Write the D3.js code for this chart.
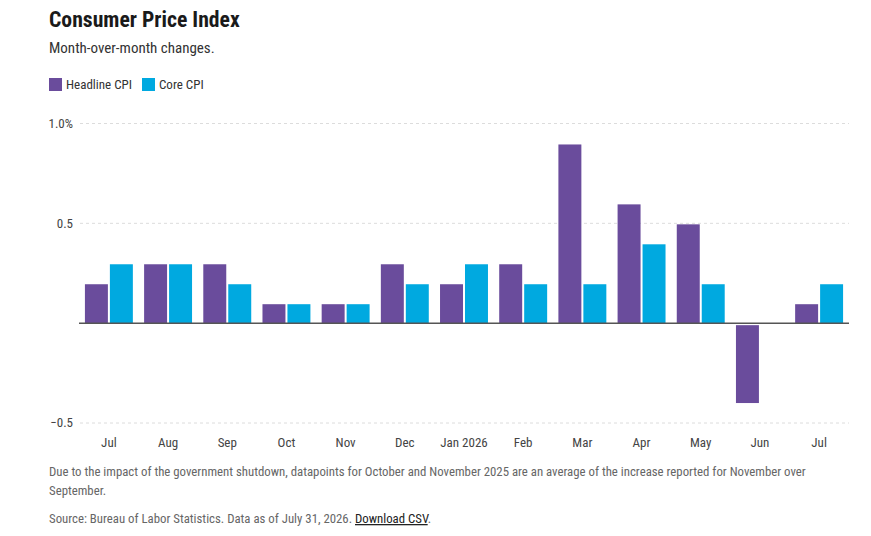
<!DOCTYPE html>
<html>
<head>
<meta charset="utf-8">
<script src="https://cdn.jsdelivr.net/npm/d3@7"></script>
<style>
    body { margin: 0; background: #fff; }
    svg text { font-family: "Roboto Condensed", "Liberation Sans Narrow", "DejaVu Sans Condensed", sans-serif; }
</style>
</head>
<body>
<svg id="chart" width="871" height="536"></svg>
<script>
// Chart data
let months = ["Jul", "Aug", "Sep", "Oct", "Nov", "Dec", "Jan 2026", "Feb", "Mar", "Apr", "May", "Jun", "Jul"];
let headline = [0.2, 0.3, 0.3, 0.1, 0.1, 0.3, 0.2, 0.3, 0.9, 0.6, 0.5, -0.4, 0.1];
let core = [0.3, 0.3, 0.2, 0.1, 0.1, 0.2, 0.3, 0.2, 0.2, 0.4, 0.2, null, 0.2];
let series = ["Headline CPI", "Core CPI"];
let yTicks = [-0.5, 0.5, 1.0];
let yTickLabels = ["\u22120.5", "0.5", "1.0%"];

let colors = { "Headline CPI": "#6a4c9c", "Core CPI": "#00a9e0" };

let svg = d3.select("#chart");

// Title and subtitle
svg.append("text")
    .attr("x", 49).attr("y", 27)
    .style("font-size", "21.7px").style("font-weight", "bold").style("fill", "#1a1a1a")
    .text("Consumer Price Index");

svg.append("text")
    .attr("x", 49).attr("y", 53)
    .style("font-size", "15px").style("fill", "#333")
    .text("Month-over-month changes.");

// Legend
let legend = svg.append("g").attr("transform", "translate(49,78)");
let lx = 0;
series.forEach(function(s) {
    let g = legend.append("g").attr("transform", "translate(" + lx + ",0)");
    g.append("rect").attr("width", 13).attr("height", 13).style("fill", colors[s]);
    let t = g.append("text").attr("x", 17).attr("y", 11)
        .style("font-size", "13px").style("fill", "#333").text(s);
    lx += 17 + t.node().getComputedTextLength() + 10;
});

// Scales
let x0 = d3.scaleBand()
    .domain(d3.range(months.length))
    .range([79, 849])
    .paddingInner(0.19)
    .paddingOuter(0.1);

let x1 = d3.scaleBand()
    .domain(series)
    .range([0, x0.bandwidth()])
    .paddingInner(0.08);

let y = d3.scaleLinear()
    .domain([-0.5, 1.0])
    .range([423, 123.5]);

// Gridlines
svg.selectAll(".grid").data(yTicks)
    .enter().append("line")
    .attr("class", "grid")
    .attr("x1", 80).attr("x2", 849)
    .attr("y1", function(d) { return y(d); })
    .attr("y2", function(d) { return y(d); })
    .style("stroke", "#dcdcdc")
    .style("stroke-dasharray", "3,3");

// Y labels
svg.selectAll(".ylabel").data(yTicks)
    .enter().append("text")
    .attr("class", "ylabel")
    .attr("x", 73)
    .attr("y", function(d) { return y(d) + 1; })
    .attr("text-anchor", "end")
    .attr("dominant-baseline", "middle")
    .style("font-size", "13px").style("fill", "#444")
    .text(function(d, i) { return yTickLabels[i]; });

// Bars
let rows = months.map(function(m, i) {
    return { i: i, values: [
        { key: "Headline CPI", v: headline[i] },
        { key: "Core CPI", v: core[i] }
    ]};
});

let groups = svg.selectAll(".month")
    .data(rows)
    .enter().append("g")
    .attr("class", "month")
    .attr("transform", function(d) { return "translate(" + x0(d.i) + ",0)"; });

groups.selectAll("rect")
    .data(function(d) { return d.values.filter(function(e) { return e.v !== null; }); })
    .enter().append("rect")
    .attr("x", function(d) { return x1(d.key); })
    .attr("width", x1.bandwidth())
    .attr("y", function(d) { return d.v >= 0 ? y(d.v) + 1 : y(0) + 2; })
    .attr("height", function(d) { return d.v >= 0 ? y(0) - y(d.v) - 1 : y(d.v) - y(0) - 2; })
    .style("fill", function(d) { return colors[d.key]; });

// Zero line
svg.append("line")
    .attr("x1", 79).attr("x2", 849)
    .attr("y1", y(0)).attr("y2", y(0))
    .style("stroke", "#555")
    .style("stroke-width", 1.5);

// X labels
svg.selectAll(".xlabel").data(months)
    .enter().append("text")
    .attr("class", "xlabel")
    .attr("x", function(d, i) { return x0(i) + x0.bandwidth() / 2; })
    .attr("y", 447)
    .attr("text-anchor", "middle")
    .style("font-size", "13px").style("fill", "#444")
    .text(function(d) { return d; });

// Footer
let note = [
    "Due to the impact of the government shutdown, datapoints for October and November 2025 are an average of the increase reported for November over",
    "September."
];
svg.selectAll(".note").data(note)
    .enter().append("text")
    .attr("class", "note")
    .attr("x", 49)
    .attr("y", function(d, i) { return 476 + i * 19; })
    .style("font-size", "12.8px").style("fill", "#666")
    .text(function(d) { return d; });

let src = svg.append("text")
    .attr("x", 49).attr("y", 523)
    .style("font-size", "12.8px").style("fill", "#666");
src.append("tspan").text("Source: Bureau of Labor Statistics. Data as of July 31, 2026. ");
src.append("tspan").style("fill", "#222").style("text-decoration", "underline").text("Download CSV");
src.append("tspan").text(".");
</script>
</body>
</html>
